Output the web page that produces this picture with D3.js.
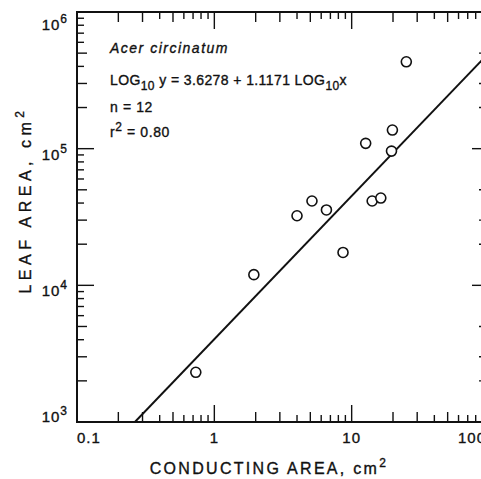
<!DOCTYPE html>
<html>
<head>
<meta charset="utf-8">
<script src="https://cdn.jsdelivr.net/npm/d3@7"></script>
<style>
  body { margin: 0; background: #fff; }
  svg { display: block; font-family: "Liberation Sans", Arial, sans-serif; }
  text { fill: #111; stroke: #111; stroke-width: 0.35px; }
</style>
</head>
<body>
<svg id="chart" width="481" height="479"></svg>
<script>
// values
const conductingArea = [25.0, 19.8, 12.65, 19.5, 5.14, 4.0, 6.55, 14.1, 16.3, 1.94, 8.65, 0.733];
const leafArea = [432000, 136800, 109400, 96000, 41400, 32300, 35600, 41400, 43500, 11970, 17400, 2310];
// regression line as drawn (end points)
const fitX = [0.264, 100];
const fitY = [1000, 503000];
const xTickLabels = ['0.1', '1', '10', '100'];
const yTickExps = ['3', '4', '5', '6'];
const species = 'Acer circinatum';

const svg = d3.select('#chart');
const margin = { left: 77, top: 12, right: 489, bottom: 422 };

const x = d3.scaleLog().domain([0.1, 100]).range([margin.left, margin.right]);
const y = d3.scaleLog().domain([1e3, 1e6]).range([margin.bottom, margin.top]);

// ticks: decades (major) + 2..9 (minor)
const isDecade = d => Math.abs(Math.log10(d) - Math.round(Math.log10(d))) < 1e-9;
const xMajor = x.ticks().filter(isDecade);
const xMinor = x.ticks().filter(d => !isDecade(d));
const yMajor = y.ticks().filter(isDecade);
const yMinor = y.ticks().filter(d => !isDecade(d));

const minorLen = d => {
  const k = Math.round(d / Math.pow(10, Math.floor(Math.log10(d) + 1e-9)));
  return (k === 2 || k === 3 || k === 5) ? 10 : 7;
};
const majorLen = 17;

const ticks = svg.append('g').attr('stroke', '#111').attr('stroke-width', 1.4);
// bottom and top
[[margin.bottom, -1], [margin.top, 1]].forEach(([yy, dir]) => {
  ticks.selectAll(null).data(xMajor).enter().append('line')
    .attr('x1', d => x(d)).attr('x2', d => x(d))
    .attr('y1', yy).attr('y2', d => yy + dir * majorLen);
  ticks.selectAll(null).data(xMinor).enter().append('line')
    .attr('x1', d => x(d)).attr('x2', d => x(d))
    .attr('y1', yy).attr('y2', d => yy + dir * minorLen(d));
});
// left and right
[[margin.left, 1], [margin.right, -1]].forEach(([xx, dir]) => {
  ticks.selectAll(null).data(yMajor).enter().append('line')
    .attr('y1', d => y(d)).attr('y2', d => y(d))
    .attr('x1', xx).attr('x2', d => xx + dir * majorLen);
  ticks.selectAll(null).data(yMinor).enter().append('line')
    .attr('y1', d => y(d)).attr('y2', d => y(d))
    .attr('x1', xx).attr('x2', d => xx + dir * minorLen(d));
});

// frame
svg.append('rect')
  .attr('x', margin.left).attr('y', margin.top)
  .attr('width', margin.right - margin.left).attr('height', margin.bottom - margin.top)
  .attr('fill', 'none').attr('stroke', '#111').attr('stroke-width', 2);

// x tick labels
svg.append('g').selectAll('text').data(xMajor).enter().append('text')
  .attr('x', (d, i) => i === 0 ? x(d) : i === xMajor.length - 1 ? x(d) - 3 : x(d))
  .attr('y', 443)
  .attr('text-anchor', (d, i) => i === 0 ? 'start' : i === xMajor.length - 1 ? 'end' : 'middle')
  .attr('font-size', 15).attr('letter-spacing', 1)
  .text((d, i) => xTickLabels[i]);

// y tick labels: 10 with superscript
const yLab = svg.append('g').selectAll('text').data(yMajor).enter().append('text')
  .attr('x', 68)
  .attr('y', d => Math.min(Math.max(y(d) + 11, 30), margin.bottom))
  .attr('text-anchor', 'end')
  .attr('font-size', 15).attr('letter-spacing', 1);
yLab.append('tspan').text('10');
yLab.append('tspan').attr('dy', -7).attr('font-size', 12).text((d, i) => yTickExps[i]);

// axis titles
const xt = svg.append('text')
  .attr('x', 269).attr('y', 474)
  .attr('text-anchor', 'middle')
  .attr('font-size', 16).attr('letter-spacing', 2.3);
xt.append('tspan').text('CONDUCTING AREA, cm');
xt.append('tspan').attr('dy', -7).attr('font-size', 12).text('2');

const yt = svg.append('text')
  .attr('transform', 'translate(31,200) rotate(-90)')
  .attr('text-anchor', 'middle')
  .attr('font-size', 16).attr('letter-spacing', 4.5);
yt.append('tspan').text('LEAF AREA, cm');
yt.append('tspan').attr('dy', -7).attr('font-size', 12).text('2');

// regression line, clipped to the frame
svg.append('clipPath').attr('id', 'plot-clip').append('rect')
  .attr('x', margin.left).attr('y', margin.top)
  .attr('width', margin.right - margin.left).attr('height', margin.bottom - margin.top);

const fit = fitX.map((d, i) => [d, fitY[i]]);
svg.append('path')
  .datum(fit)
  .attr('clip-path', 'url(#plot-clip)')
  .attr('fill', 'none').attr('stroke', '#111').attr('stroke-width', 2)
  .attr('d', d3.line().x(d => x(d[0])).y(d => y(d[1])));

// points
svg.append('g').selectAll('circle').data(conductingArea).enter().append('circle')
  .attr('cx', d => x(d))
  .attr('cy', (d, i) => y(leafArea[i]))
  .attr('r', 5)
  .attr('fill', '#fff').attr('stroke', '#111').attr('stroke-width', 1.6);

// annotations
const note = svg.append('g').attr('font-size', 14);
note.append('text').attr('x', 110).attr('y', 53)
  .attr('font-style', 'italic').attr('letter-spacing', 1.5).text(species);

const eq = note.append('text').attr('x', 110).attr('y', 85).attr('letter-spacing', 0.4);
eq.append('tspan').text('LOG');
eq.append('tspan').attr('dy', 5).attr('font-size', 12).text('10');
eq.append('tspan').attr('dy', -5).text(' y = 3.6278 + 1.1171 LOG');
eq.append('tspan').attr('dy', 5).attr('font-size', 12).text('10');
eq.append('tspan').attr('dy', -5).text('x');

note.append('text').attr('x', 110).attr('y', 112).attr('letter-spacing', 0.6).text('n = 12');

const r2 = note.append('text').attr('x', 110).attr('y', 137).attr('letter-spacing', 0.6);
r2.append('tspan').text('r');
r2.append('tspan').attr('dy', -6).attr('font-size', 12).text('2');
r2.append('tspan').attr('dy', 6).text(' = 0.80');
</script>
</body>
</html>
